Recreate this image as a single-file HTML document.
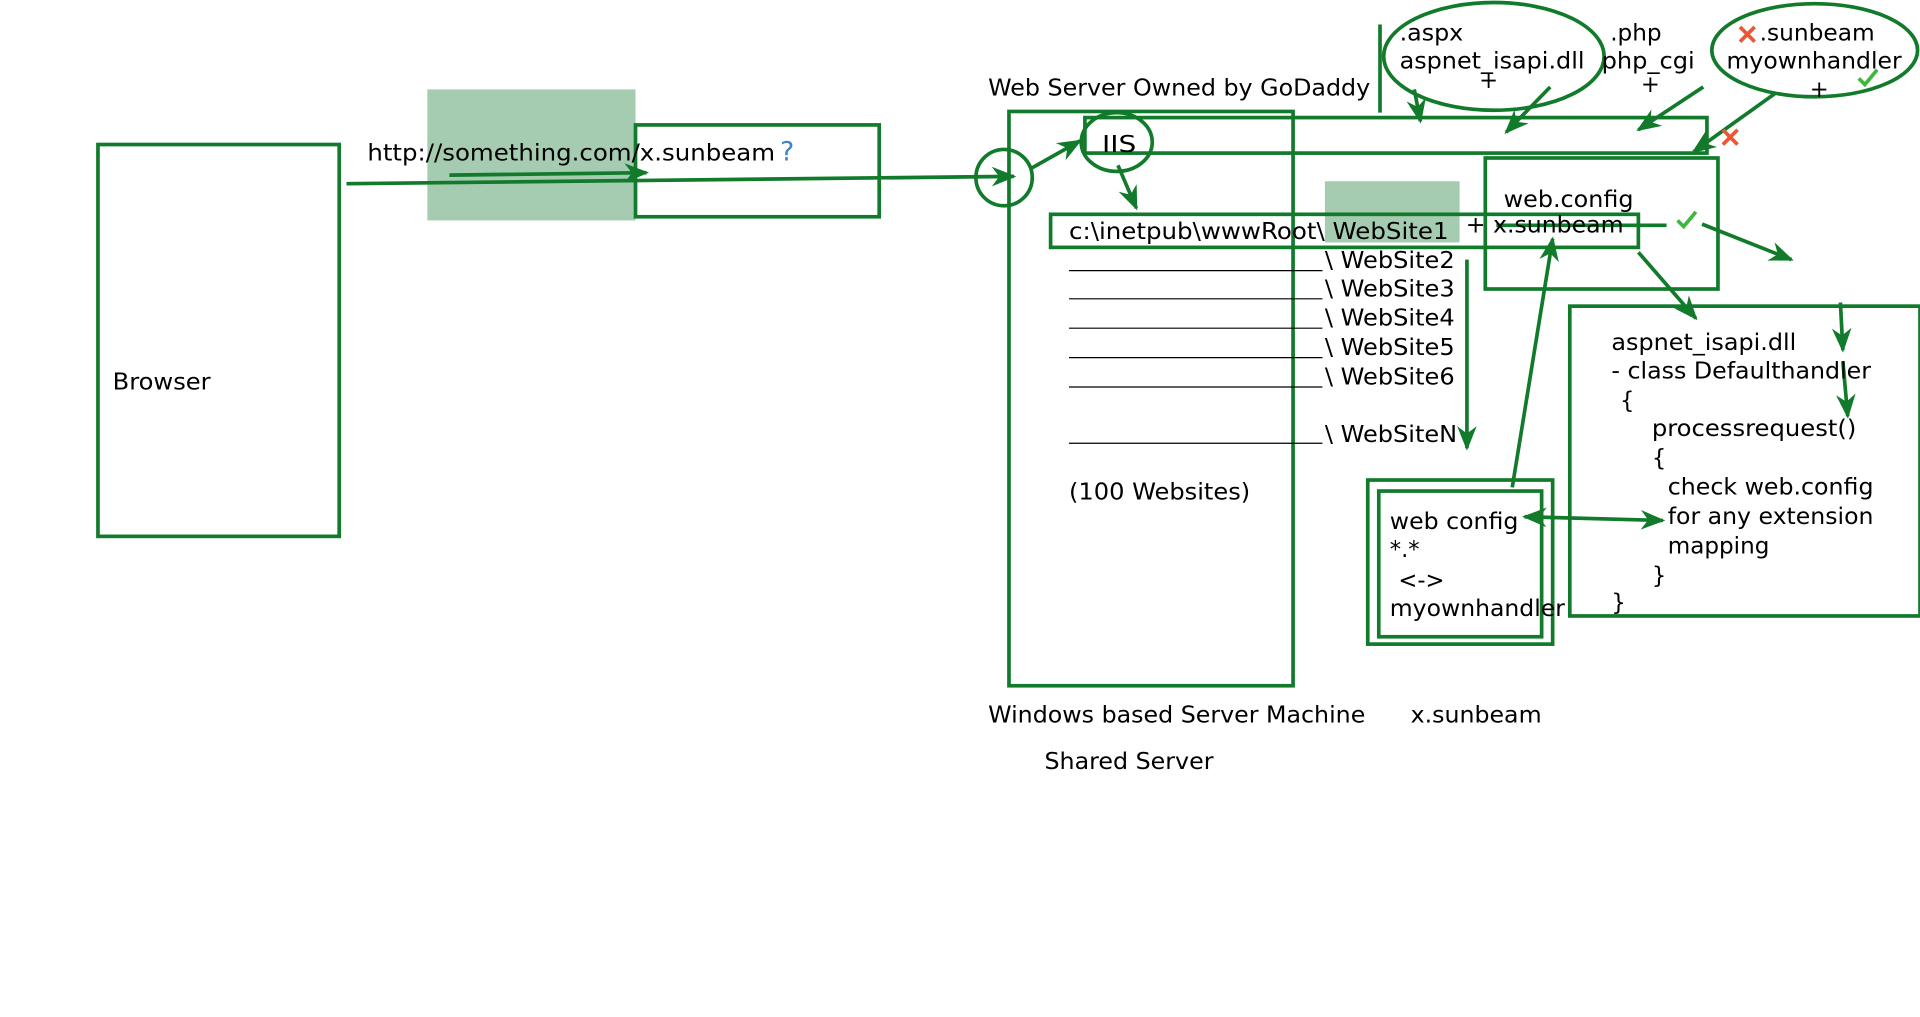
<!DOCTYPE html>
<html><head><meta charset="utf-8"><style>
html,body{margin:0;padding:0;background:#fff;width:1920px;height:1017px;overflow:hidden}
svg{display:block}
text{font-family:"DejaVu Sans","Liberation Sans",sans-serif;font-size:18.5px;fill:#000}
</style></head><body>
<svg width="1920" height="1017" viewBox="0 0 1568 830.5" xmlns="http://www.w3.org/2000/svg">
<defs>
<marker id="a" viewBox="0 0 20 16" refX="18" refY="8" markerWidth="20" markerHeight="16" markerUnits="userSpaceOnUse" orient="auto-start-reverse">
<path d="M0,0 L20,8 L0,16 L6,8 Z" fill="#117a2b"/>
</marker>
</defs>
<g fill="none" stroke="#117a2b" stroke-width="3">
<rect x="349" y="73" width="170" height="107" fill="#a5cbb0" stroke="none"/>
<rect x="1082" y="148" width="110" height="50" fill="#a5cbb0" stroke="none"/>
<rect x="80" y="118" width="197" height="320"/>
<rect x="519" y="102" width="199" height="75"/>
<line x1="283" y1="150" x2="828" y2="144" marker-end="url(#a)"/>
<line x1="367" y1="143" x2="528" y2="141" marker-end="url(#a)"/>
<circle cx="820" cy="145" r="23"/>
<line x1="843" y1="137" x2="882" y2="115" marker-end="url(#a)"/>
<rect x="824" y="91" width="232" height="469"/>
<ellipse cx="912" cy="116" rx="29" ry="24"/>
<rect x="886" y="96" width="508" height="29"/>
<line x1="913" y1="135" x2="928" y2="170" marker-end="url(#a)"/>
<rect x="858" y="175" width="480" height="27"/>
<rect x="1213" y="129" width="190" height="107"/>
<line x1="1222" y1="184" x2="1361" y2="184"/>
<line x1="1198" y1="212" x2="1198" y2="366" marker-end="url(#a)"/>
<line x1="1390" y1="183" x2="1463" y2="212" marker-end="url(#a)"/>
<line x1="1338" y1="206" x2="1385" y2="260" marker-end="url(#a)"/>
<rect x="1282" y="250" width="286" height="253"/>
<line x1="1503" y1="247" x2="1505" y2="286" marker-end="url(#a)"/>
<line x1="1505" y1="295" x2="1509" y2="340" marker-end="url(#a)"/>
<rect x="1117" y="392" width="151" height="134"/>
<rect x="1126" y="401" width="133" height="119"/>
<line x1="1245" y1="422" x2="1358" y2="425" marker-start="url(#a)" marker-end="url(#a)"/>
<line x1="1235" y1="398" x2="1268" y2="195" marker-end="url(#a)"/>
<line x1="1127" y1="20" x2="1127" y2="92"/>
<ellipse cx="1220" cy="46" rx="90" ry="44"/>
<line x1="1155" y1="73" x2="1160" y2="99" marker-end="url(#a)"/>
<line x1="1266" y1="71" x2="1230" y2="108" marker-end="url(#a)"/>
<line x1="1391" y1="71" x2="1338" y2="106" marker-end="url(#a)"/>
<ellipse cx="1482" cy="41" rx="84" ry="38"/>
<line x1="1450" y1="76" x2="1383" y2="124" marker-end="url(#a)"/>
</g>
<g stroke="#000" stroke-width="1">
<line x1="873" y1="221" x2="1080" y2="221"/>
<line x1="873" y1="244" x2="1080" y2="244"/>
<line x1="873" y1="268" x2="1080" y2="268"/>
<line x1="873" y1="292" x2="1080" y2="292"/>
<line x1="873" y1="316" x2="1080" y2="316"/>
<line x1="873" y1="362" x2="1080" y2="362"/>
</g>
<g stroke="#3db83d" stroke-width="3" fill="none">
<path d="M1370,180 l5,5 l10,-12"/>
<path d="M1518,64 l5,5 l10,-12"/>
</g>
<g stroke="#ee5533" stroke-width="3">
<path d="M1421,22 l12,12 M1433,22 l-12,12"/>
<path d="M1407,106 l12,12 M1419,106 l-12,12"/>
</g>
<g lengthAdjust="spacingAndGlyphs">
<text x="92" y="318" textLength="80" lengthAdjust="spacingAndGlyphs">Browser</text>
<text x="300" y="131" textLength="333" lengthAdjust="spacingAndGlyphs">http://something.com/x.sunbeam</text>
<text x="637" y="131" style="fill:#3a86c8;font-size:22px">?</text>
<text x="807" y="78" textLength="312" lengthAdjust="spacingAndGlyphs">Web Server Owned by GoDaddy</text>
<text x="900" y="124" textLength="28" lengthAdjust="spacingAndGlyphs">IIS</text>
<text x="873" y="195" textLength="310" lengthAdjust="spacingAndGlyphs">c:\inetpub\wwwRoot\ WebSite1</text>
<text x="1082" y="219" textLength="106" lengthAdjust="spacingAndGlyphs">\ WebSite2</text>
<text x="1082" y="242" textLength="106" lengthAdjust="spacingAndGlyphs">\ WebSite3</text>
<text x="1082" y="266" textLength="106" lengthAdjust="spacingAndGlyphs">\ WebSite4</text>
<text x="1082" y="290" textLength="106" lengthAdjust="spacingAndGlyphs">\ WebSite5</text>
<text x="1082" y="314" textLength="106" lengthAdjust="spacingAndGlyphs">\ WebSite6</text>
<text x="1082" y="361" textLength="108" lengthAdjust="spacingAndGlyphs">\ WebSiteN</text>
<text x="873" y="408" textLength="148" lengthAdjust="spacingAndGlyphs">(100 Websites)</text>
<text x="1197" y="190" textLength="129" lengthAdjust="spacingAndGlyphs">+ x.sunbeam</text>
<text x="1228" y="169" textLength="106" lengthAdjust="spacingAndGlyphs">web.config</text>
<text x="1316" y="286" textLength="151" lengthAdjust="spacingAndGlyphs">aspnet_isapi.dll</text>
<text x="1316" y="309" textLength="212" lengthAdjust="spacingAndGlyphs">- class Defaulthandler</text>
<text x="1323" y="333">{</text>
<text x="1349" y="356" textLength="167" lengthAdjust="spacingAndGlyphs">processrequest()</text>
<text x="1349" y="380">{</text>
<text x="1362" y="404" textLength="168" lengthAdjust="spacingAndGlyphs">check web.config</text>
<text x="1362" y="428" textLength="168" lengthAdjust="spacingAndGlyphs">for any extension</text>
<text x="1362" y="452" textLength="83" lengthAdjust="spacingAndGlyphs">mapping</text>
<text x="1349" y="476">}</text>
<text x="1316" y="498">}</text>
<text x="1135" y="432" textLength="105" lengthAdjust="spacingAndGlyphs">web config</text>
<text x="1135" y="455">*.*</text>
<text x="1142" y="480">&lt;-&gt;</text>
<text x="1135" y="503" textLength="143" lengthAdjust="spacingAndGlyphs">myownhandler</text>
<text x="807" y="590" textLength="308" lengthAdjust="spacingAndGlyphs">Windows based Server Machine</text>
<text x="1152" y="590" textLength="107" lengthAdjust="spacingAndGlyphs">x.sunbeam</text>
<text x="853" y="628" textLength="138" lengthAdjust="spacingAndGlyphs">Shared Server</text>
<text x="1143" y="33" textLength="52" lengthAdjust="spacingAndGlyphs">.aspx</text>
<text x="1143" y="56" textLength="151" lengthAdjust="spacingAndGlyphs">aspnet_isapi.dll</text>
<text x="1208" y="72">+</text>
<text x="1315" y="33" textLength="42" lengthAdjust="spacingAndGlyphs">.php</text>
<text x="1308" y="56" textLength="76" lengthAdjust="spacingAndGlyphs">php_cgi</text>
<text x="1340" y="75">+</text>
<text x="1437" y="33" textLength="94" lengthAdjust="spacingAndGlyphs">.sunbeam</text>
<text x="1410" y="56" textLength="143" lengthAdjust="spacingAndGlyphs">myownhandler</text>
<text x="1478" y="79">+</text>
</g>
</svg>
</body></html>
